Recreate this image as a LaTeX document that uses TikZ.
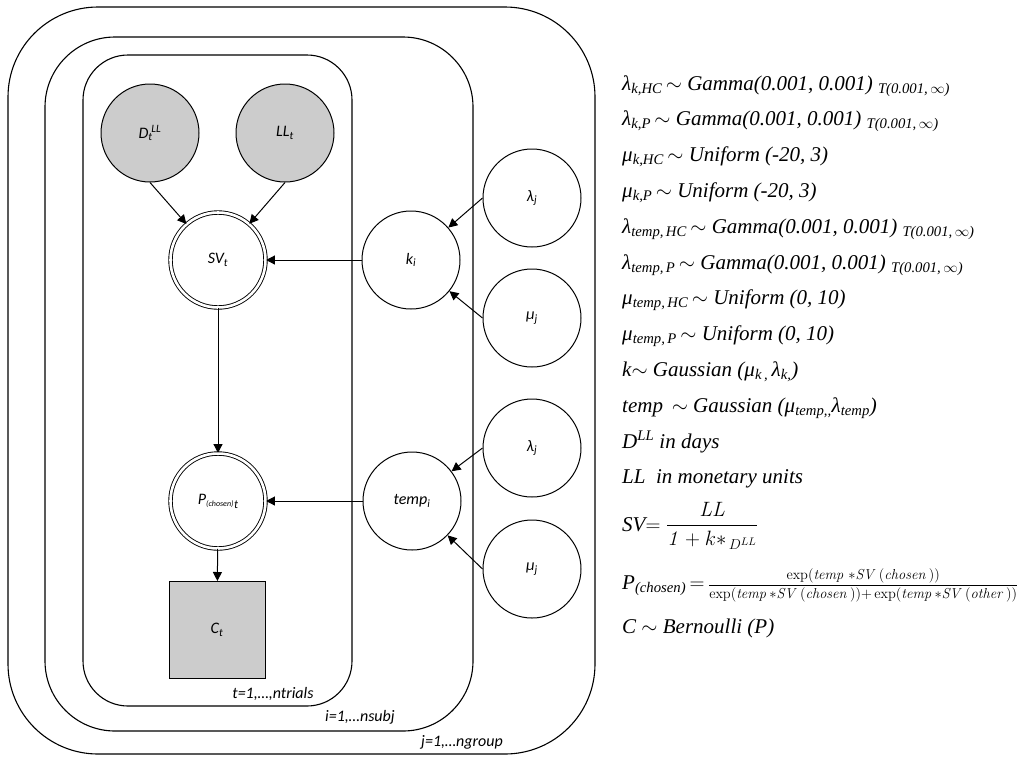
\documentclass[tikz,border=0pt]{standalone}
\usepackage{amsmath}
\usepackage[no-math]{fontspec}
\setmainfont{Carlito}
\newfontfamily\eqfont{Liberation Serif}
\usetikzlibrary{arrows.meta}
\newcommand{\nodefont}{\fontsize{16}{18}\selectfont\itshape}
\newcommand{\tl}{\,$\sim$\ }
\tikzset{
  plate/.style={draw=black, line width=1.1pt},
  latent/.style={circle, draw=black, line width=1pt, minimum size=98pt, inner sep=0pt, font=\nodefont},
  observed/.style={latent, fill=black!20},
  detnode/.style={circle, draw=black, line width=0.9pt, double, double distance=2.6pt, minimum size=95pt, inner sep=0pt, font=\nodefont},
  obsbox/.style={rectangle, draw=black, line width=1pt, fill=black!20, minimum width=96pt, minimum height=97pt, inner sep=0pt, font=\nodefont},
  edge/.style={-{Triangle[length=9pt,width=9pt]}, line width=1pt},
  eqn/.style={anchor=base west, inner sep=0pt, font=\fontsize{21}{24}\selectfont\eqfont\itshape},
  platelabel/.style={inner sep=0pt, font=\fontsize{16}{18}\selectfont\itshape}
}
\begin{document}
\begin{tikzpicture}[x=1pt,y=-1pt]
\useasboundingbox (0,0) rectangle (1030,756);
% plates
\draw[plate, rounded corners=90pt] (8,7) rectangle (595,754);
\draw[plate, rounded corners=70pt] (45,37) rectangle (473,731);
\draw[plate, rounded corners=45pt] (83,55) rectangle (352,706);
\node[platelabel] (lt) at (273,694) {t=1,…,ntrials};
\node[platelabel] (li) at (360,717) {i=1,…nsubj};
\node[platelabel] (lj) at (462,742) {j=1,…ngroup};
% nodes
\node[observed] (D) at (150,133) {D\rlap{\textsubscript{t}}\kern3pt\textsuperscript{LL}};
\node[observed] (LL) at (285,133) {LL\textsubscript{t}};
\node[detnode] (SV) at (218,260) {SV\textsubscript{t}};
\node[detnode] (P) at (218,501) {P\textsubscript{\fontsize{8}{8}\selectfont(chosen)}\raisebox{-4pt}{\fontsize{12}{12}\selectfont t}};
\node[obsbox] (C) at (217,630) {C\textsubscript{t}};
\node[latent] (k) at (411,260) {k\textsubscript{i}};
\node[latent] (temp) at (412,501) {temp\textsubscript{i}};
\node[latent] (lamk) at (532,198) {λ\textsubscript{j}};
\node[latent] (muk) at (532,318) {μ\textsubscript{j}};
\node[latent] (lamt) at (532,448) {λ\textsubscript{j}};
\node[latent] (mut) at (532,569) {μ\textsubscript{j}};
% edges
\draw[edge] (D.south) -- (SV);
\draw[edge] (LL.south) -- (SV);
\draw[edge] (k) -- (SV);
\draw[edge] (lamk.west) -- (k);
\draw[edge] (muk.west) -- (k);
\draw[edge] (SV) -- (P);
\draw[edge] (temp) -- (P);
\draw[edge] (lamt.west) -- (temp);
\draw[edge] (mut.west) -- (temp);
\draw[edge] (P) -- (C);
% equations
\node[eqn] (e1) at (622,90) {λ\textsubscript{k,HC}\tl Gamma(0.001, 0.001) \textsubscript{T(0.001,\,$\infty$)}};
\node[eqn] (e2) at (622,125.8) {λ\textsubscript{k,P}\tl Gamma(0.001, 0.001) \textsubscript{T(0.001,\,$\infty$)}};
\node[eqn] (e3) at (622,161.6) {μ\textsubscript{k,HC}\tl Uniform (-20, 3)};
\node[eqn] (e4) at (622,197.4) {μ\textsubscript{k,P}\tl Uniform (-20, 3)};
\node[eqn] (e5) at (622,233.2) {λ\textsubscript{temp,\,HC}\tl Gamma(0.001, 0.001) \textsubscript{T(0.001,\,$\infty$)}};
\node[eqn] (e6) at (622,269) {λ\textsubscript{temp,\,P}\tl Gamma(0.001, 0.001) \textsubscript{T(0.001,\,$\infty$)}};
\node[eqn] (e7) at (622,304.8) {μ\textsubscript{temp,\,HC}\tl Uniform (0, 10)};
\node[eqn] (e8) at (622,340.6) {μ\textsubscript{temp,\,P}\tl Uniform (0, 10)};
\node[eqn] (e9) at (622,376.4) {k$\sim$ Gaussian (μ\textsubscript{k\,,}\,λ\textsubscript{k,})};
\node[eqn] (e10) at (622,412.2) {temp \,$\sim$\ Gaussian (μ\textsubscript{temp,,}λ\textsubscript{temp})};
\node[eqn] (e11) at (622,448) {D\textsuperscript{LL} in days};
\node[eqn] (e12) at (622,483.8) {LL\ \ in monetary units};
\node[eqn] (e13) at (622,531) {SV$=\dfrac{\mathit{LL}}{\mathit{1}+k\ast_{\,D^{LL}}}$};
\node[eqn] (e14) at (622,589) {P\textsubscript{(chosen)}\,$=$\,{\fontsize{15.8}{17}\selectfont$\dfrac{\exp(\mathit{temp}\;{*}\mathit{SV}\,(\mathit{chosen}\,))}{\exp(\mathit{temp}\,{*}\mathit{SV}\,(\mathit{chosen}\,)){+}\exp(\mathit{temp}\,{*}\mathit{SV}\,(\mathit{other}\,))}$}};
\node[eqn] (e15) at (622,633) {C $\sim$ Bernoulli (P)};
\end{tikzpicture}
\end{document}
